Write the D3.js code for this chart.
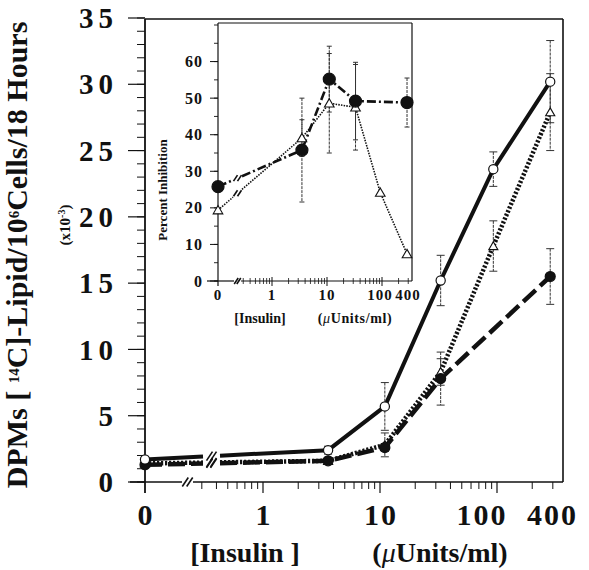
<!DOCTYPE html>
<html><head><meta charset="utf-8">
<script src="https://cdn.jsdelivr.net/npm/d3@7"></script>
<style>
body{margin:0;background:#fff}
svg{display:block}
text{font-family:"Liberation Serif","DejaVu Serif",serif;font-weight:bold;fill:#111}
</style></head><body>
<svg id="chart" width="589" height="570"></svg>
<script>
// main panel: [14C]-lipid, DPM x10^-3
const doseOpen = [0, 3.6, 11, 33, 93, 285];
const lipidOpen = [1.7, 2.4, 5.7, 15.2, 23.6, 30.2];
const errOpen = [0.2, 0.3, 1.8, 1.9, 1.3, 3.1];
const doseTri = [0, 3.6, 11, 33, 93, 285];
const lipidTri = [1.4, 1.6, 2.8, 8.3, 17.8, 27.9];
const errTri = [0.1, 0.2, 0.9, 1.0, 1.9, 2.9];
const doseFilled = [0, 3.6, 11, 33, 285];
const lipidFilled = [1.3, 1.6, 2.6, 7.8, 15.5];
const errFilled = [0.1, 0.2, 0.3, 2.0, 2.1];

// inset: percent inhibition
const inhDoseFilled = [0, 3.5, 11, 33, 285];
const inhFilled = [25.8, 35.8, 55.2, 49.2, 48.8];
const inhErrFilled = [0, 14.2, 9.0, 10.6, 6.7];
const inhDoseTri = [0, 3.5, 11, 33, 93, 285];
const inhTri = [19.4, 39.1, 48.6, 47.5, 24.2, 7.4];
const inhErrTri = [0, 5, 13.6, 11.7, 0, 0];

const yTicks = [0, 5, 10, 15, 20, 25, 30, 35];
const xTicks = [0, 1, 10, 100, 400];
const xMinor = [0.3, 0.4, 0.5, 0.6, 0.7, 0.8, 0.9, 2, 3, 4, 5, 6, 7, 8, 9, 20, 30, 40, 50, 60, 70, 80, 90, 200, 300];
const inhTicks = [0, 10, 20, 30, 40, 50, 60];

const svg = d3.select('#chart');

// ---------- main panel ----------
const L = 145, R = 563, T = 19, B = 482;
const x = d3.scaleLog().domain([1, 400]).range([263, 263 + 117 * Math.log10(400)]);
const xp = d => d === 0 ? L : x(d);
const y = d3.scaleLinear().domain([0, 35]).range([B, 18]);

const main = svg.append('g');

// frame
main.append('line').attr('x1', L).attr('x2', R).attr('y1', T).attr('y2', T).attr('stroke', '#111').attr('stroke-width', 1.6);
main.append('line').attr('x1', R).attr('x2', R).attr('y1', T).attr('y2', B).attr('stroke', '#111').attr('stroke-width', 1.6);
main.append('line').attr('x1', L).attr('x2', L).attr('y1', T).attr('y2', B + 11).attr('stroke', '#111').attr('stroke-width', 1.8);
// bottom axis with break
main.append('line').attr('x1', 130).attr('x2', 182).attr('y1', B).attr('y2', B).attr('stroke', '#111').attr('stroke-width', 1.6);
main.append('line').attr('x1', 193).attr('x2', R).attr('y1', B).attr('y2', B).attr('stroke', '#111').attr('stroke-width', 1.6);

function slashes(g, cx, cy, h, w) {
  [-w, w].forEach(k => {
    g.append('line')
      .attr('x1', cx + k - h / 3).attr('y1', cy + h / 2)
      .attr('x2', cx + k + h / 3).attr('y2', cy - h / 2)
      .attr('stroke', '#111').attr('stroke-width', 1.6);
  });
}
slashes(main, 187.5, B, 9, 2.2);

// y ticks
main.selectAll('.ymin').data(d3.range(0, 36, 1)).enter().append('line')
  .attr('x1', L - 8).attr('x2', L).attr('y1', d => y(d)).attr('y2', d => y(d))
  .attr('stroke', '#111').attr('stroke-width', 1);
main.selectAll('.ymaj').data(yTicks).enter().append('line')
  .attr('x1', L - 17).attr('x2', L).attr('y1', d => y(d)).attr('y2', d => y(d))
  .attr('stroke', '#111').attr('stroke-width', 1.2);
main.selectAll('.ylab').data(yTicks).enter().append('text')
  .attr('x', 118).attr('y', d => y(d)).attr('dy', '0.35em')
  .attr('text-anchor', 'end').style('font-size', '29px').style('letter-spacing', '5px')
  .text(d => d);

// x ticks
main.selectAll('.xmin').data(xMinor).enter().append('line')
  .attr('x1', d => x(d)).attr('x2', d => x(d)).attr('y1', B).attr('y2', B + 7)
  .attr('stroke', '#111').attr('stroke-width', 1);
main.selectAll('.xmaj').data([1, 10, 100]).enter().append('line')
  .attr('x1', d => x(d)).attr('x2', d => x(d)).attr('y1', B).attr('y2', B + 11)
  .attr('stroke', '#111').attr('stroke-width', 1.2);
main.selectAll('.xlab').data(xTicks).enter().append('text')
  .attr('x', d => xp(d) + (d >= 100 ? -16 : 0) + 1).attr('y', 525)
  .attr('text-anchor', 'middle').style('font-size', '30px').style('letter-spacing', '2px')
  .text(d => d);

// axis titles
main.append('text').attr('x', 245).attr('y', 562).attr('text-anchor', 'middle')
  .style('font-size', '28px').text('[Insulin ]');
const unitsT = main.append('text').attr('x', 440).attr('y', 562).attr('text-anchor', 'middle')
  .style('font-size', '28px');
unitsT.append('tspan').text('(');
unitsT.append('tspan').style('font-style', 'italic').style('font-weight', 'normal').text('μ');
unitsT.append('tspan').text('Units/ml)');

const yt = main.append('text').attr('transform', 'translate(27,255) rotate(-90)')
  .attr('text-anchor', 'middle').style('font-size', '30px');
yt.append('tspan').text('DPMs [ ');
yt.append('tspan').attr('baseline-shift', '55%').style('font-size', '15px').text('14');
yt.append('tspan').text('C]-Lipid/10');
yt.append('tspan').attr('baseline-shift', '55%').style('font-size', '15px').text('6');
yt.append('tspan').text('Cells/18 Hours');

const xt = main.append('text').attr('transform', 'translate(70,225) rotate(-90)')
  .attr('text-anchor', 'middle').style('font-size', '15px');
xt.append('tspan').text('(x10');
xt.append('tspan').attr('baseline-shift', '55%').style('font-size', '10px').text('-3');
xt.append('tspan').text(')');

// helpers
function brokenPath(pts, gx0, gx1) {
  const a = pts[0], b = pts[1];
  const at = gx => a[1] + (b[1] - a[1]) * (gx - a[0]) / (b[0] - a[0]);
  return [[a, [gx0, at(gx0)]], [[gx1, at(gx1)], ...pts.slice(1)], [(gx0 + gx1) / 2, at((gx0 + gx1) / 2)]];
}
const line = d3.line();

function series(g, xs, ys, errs, xf, yf, opt) {
  const pts = xs.map((d, i) => [xf(d), yf(ys[i])]);
  const [s1, s2, mid] = brokenPath(pts, opt.gap[0], opt.gap[1]);
  [s1, s2].forEach(s => g.append('path').attr('d', line(s)).attr('fill', 'none')
    .attr('stroke', '#111').attr('stroke-width', opt.width)
    .attr('stroke-dasharray', opt.dash || null));
  slashes(g, mid[0], mid[1], opt.slash, 2);
  // error bars
  xs.forEach((d, i) => {
    if (!errs[i]) return;
    const cx = xf(d), y1 = yf(ys[i] + errs[i]), y2 = yf(ys[i] - errs[i]);
    g.append('line').attr('x1', cx).attr('x2', cx).attr('y1', y1).attr('y2', y2)
      .attr('stroke', '#333').attr('stroke-width', 1).attr('stroke-dasharray', '3,1');
    [y1, y2].forEach(yy => g.append('line').attr('x1', cx - opt.cap).attr('x2', cx + opt.cap)
      .attr('y1', yy).attr('y2', yy).attr('stroke', '#333').attr('stroke-width', 1));
  });
  return pts;
}
function markers(g, pts, kind, size) {
  pts.forEach(p => {
    if (kind === 'tri') {
      g.append('path').attr('d', d3.symbol(d3.symbolTriangle, size)())
        .attr('transform', `translate(${p[0]},${p[1] + 1})`)
        .attr('fill', '#fff').attr('stroke', '#111').attr('stroke-width', 1.1);
    } else {
      g.append('circle').attr('cx', p[0]).attr('cy', p[1]).attr('r', size)
        .attr('fill', kind === 'open' ? '#fff' : '#111').attr('stroke', '#111').attr('stroke-width', 1.2);
    }
  });
}

const pF = series(main, doseFilled, lipidFilled, errFilled, xp, y, {width: 4.5, dash: '17,6', gap: [203, 220], slash: 9, cap: 4});
const pT = series(main, doseTri, lipidTri, errTri, xp, y, {width: 4.5, dash: '2.2,1.8', gap: [203, 220], slash: 9, cap: 4});
const pO = series(main, doseOpen, lipidOpen, errOpen, xp, y, {width: 4, gap: [203, 220], slash: 9, cap: 4});
markers(main, pT, 'tri', 36);
markers(main, pF, 'filled', 5);
markers(main, pO, 'open', 4.6);

// ---------- inset ----------
const iL = 218, iR = 412, iT = 23, iB = 281;
const xi = d3.scaleLog().domain([1, 400]).range([272, 272 + 55 * Math.log10(400)]);
const xip = d => d === 0 ? iL : xi(d);
const yi = d3.scaleLinear().domain([0, 70]).range([iB, 25]);

const ins = svg.append('g');
ins.append('rect').attr('x', iL).attr('y', iT).attr('width', iR - iL).attr('height', iB - iT)
  .attr('fill', '#fff').attr('stroke', 'none');
ins.append('line').attr('x1', iL).attr('x2', iR).attr('y1', iT).attr('y2', iT).attr('stroke', '#111').attr('stroke-width', 1.2);
ins.append('line').attr('x1', iR).attr('x2', iR).attr('y1', iT).attr('y2', iB).attr('stroke', '#111').attr('stroke-width', 1.2);
ins.append('line').attr('x1', iL).attr('x2', iL).attr('y1', iT).attr('y2', iB + 5).attr('stroke', '#111').attr('stroke-width', 1.2);
ins.append('line').attr('x1', 207).attr('x2', 234).attr('y1', iB).attr('y2', iB).attr('stroke', '#111').attr('stroke-width', 1.2);
ins.append('line').attr('x1', 241).attr('x2', iR).attr('y1', iB).attr('y2', iB).attr('stroke', '#111').attr('stroke-width', 1.2);
slashes(ins, 237.5, iB, 6, 1.3);

ins.selectAll('.iymin').data(d3.range(0, 71, 5)).enter().append('line')
  .attr('x1', iL - 4).attr('x2', iL).attr('y1', d => yi(d)).attr('y2', d => yi(d))
  .attr('stroke', '#111').attr('stroke-width', 0.9);
ins.selectAll('.iymaj').data(inhTicks).enter().append('line')
  .attr('x1', iL - 8).attr('x2', iL).attr('y1', d => yi(d)).attr('y2', d => yi(d))
  .attr('stroke', '#111').attr('stroke-width', 1);
ins.selectAll('.iylab').data(inhTicks).enter().append('text')
  .attr('x', 203).attr('y', d => yi(d)).attr('dy', '0.35em').attr('text-anchor', 'end')
  .style('font-size', '16px').style('letter-spacing', '1px').text(d => d);

ins.selectAll('.ixmin').data(xMinor).enter().append('line')
  .attr('x1', d => xi(d)).attr('x2', d => xi(d)).attr('y1', iB - 3).attr('y2', iB + 3)
  .attr('stroke', '#111').attr('stroke-width', 0.8);
ins.selectAll('.ixmaj').data([1, 10, 100]).enter().append('line')
  .attr('x1', d => xi(d)).attr('x2', d => xi(d)).attr('y1', iB - 4).attr('y2', iB + 5)
  .attr('stroke', '#111').attr('stroke-width', 1);
ins.selectAll('.ixlab').data(xTicks).enter().append('text')
  .attr('x', d => xip(d) + (d === 400 ? -7 : d === 100 ? -2 : 0)).attr('y', 300)
  .attr('text-anchor', 'middle').style('font-size', '15px').style('letter-spacing', '1px')
  .text(d => d);

ins.append('text').attr('x', 260).attr('y', 323).attr('text-anchor', 'middle')
  .style('font-size', '14px').text('[Insulin]');
const iu = ins.append('text').attr('x', 355).attr('y', 323).attr('text-anchor', 'middle')
  .style('font-size', '14px').style('letter-spacing', '0.6px');
iu.append('tspan').text('(');
iu.append('tspan').style('font-style', 'italic').style('font-weight', 'normal').text('μ');
iu.append('tspan').text('Units/ml)');
ins.append('text').attr('transform', 'translate(167,190) rotate(-90)').attr('text-anchor', 'middle')
  .style('font-size', '13px').text('Percent Inhibition');

const qT = series(ins, inhDoseTri, inhTri, inhErrTri, xip, yi, {width: 1.6, dash: '1.5,1.2', gap: [233, 242], slash: 6, cap: 2.5});
const qF = series(ins, inhDoseFilled, inhFilled, inhErrFilled, xip, yi, {width: 2.6, dash: '9,3,2,3', gap: [233, 242], slash: 6, cap: 2.5});
markers(ins, qT, 'tri', 40);
markers(ins, qF, 'filled', 6);
</script>
</body></html>
